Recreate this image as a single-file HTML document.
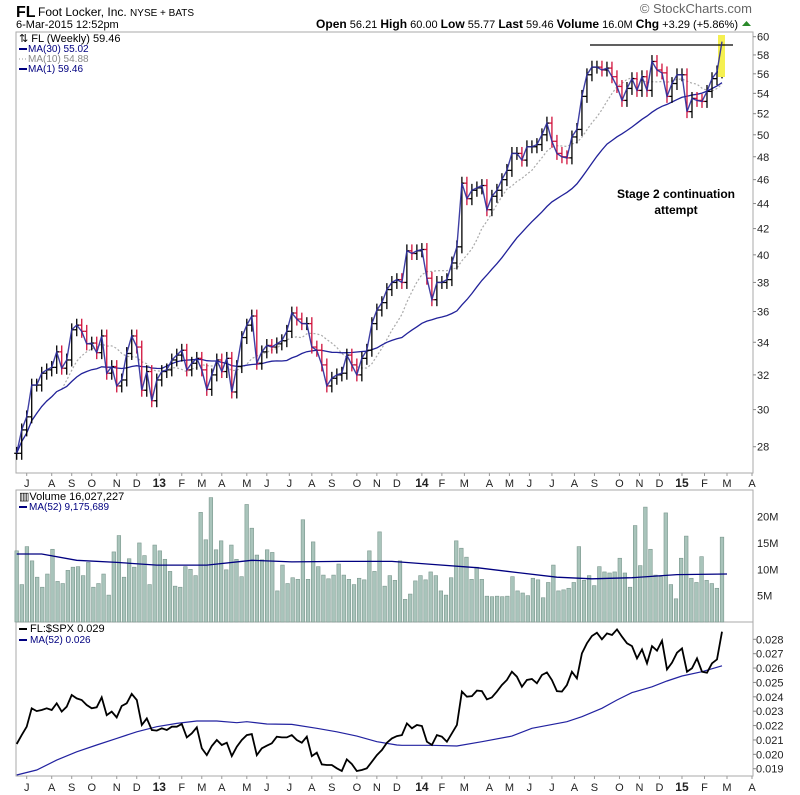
<!DOCTYPE html>
<html><head><meta charset="utf-8"><style>
html,body{margin:0;padding:0;background:#fff}
svg{display:block;font-family:"Liberation Sans",sans-serif}
</style></head><body>
<svg id="c" width="800" height="795" viewBox="0 0 800 795">
<g>
<text x="16" y="17" font-size="16" font-weight="bold">FL</text>
<text x="38" y="16" font-size="12">Foot Locker, Inc. <tspan font-size="10">NYSE + BATS</tspan></text>
<text x="16" y="28" font-size="11">6-Mar-2015 12:52pm</text>
<text x="752" y="13" font-size="13" fill="#666" text-anchor="end">© StockCharts.com</text>
<text x="738" y="28" font-size="11" text-anchor="end"><tspan font-weight="bold" font-size="12">Open</tspan> 56.21 <tspan font-weight="bold" font-size="12">High</tspan> 60.00 <tspan font-weight="bold" font-size="12">Low</tspan> 55.77 <tspan font-weight="bold" font-size="12">Last</tspan> 59.46 <tspan font-weight="bold" font-size="12">Volume</tspan> 16.0M <tspan font-weight="bold" font-size="12">Chg</tspan> +3.29 (+5.86%)</text>
<polygon points="742,26 751,26 746.5,21" fill="#2a8a2a"/>
</g>
<rect x="16" y="32" width="737" height="441" fill="none" stroke="#aaa"/>
<rect x="16" y="490" width="737" height="132" fill="none" stroke="#aaa"/>
<rect x="16" y="622" width="737" height="154" fill="none" stroke="#aaa"/>
<g id="gp"></g><g id="gv"></g><g id="gr"></g><g id="gx"></g>
<rect x="718" y="35" width="7" height="42" fill="#f5f050"/>
<line x1="590" y1="45" x2="733" y2="45" stroke="#000" stroke-width="1.3"/>
<g id="gp2"></g>
<text x="676" y="198" font-size="12" font-weight="bold" text-anchor="middle">Stage 2 continuation</text>
<text x="676" y="214" font-size="12" font-weight="bold" text-anchor="middle">attempt</text>
<g font-size="10">
<text x="19" y="42" font-size="11">⇅ FL (Weekly) 59.46</text>
<line x1="19" y1="49" x2="27" y2="49" stroke="#000080" stroke-width="2"/><text x="28" y="52" fill="#000080">MA(30) 55.02</text>
<line x1="19" y1="59" x2="27" y2="59" stroke="#999" stroke-dasharray="1,2"/><text x="28" y="62" fill="#888">MA(10) 54.88</text>
<line x1="19" y1="69" x2="27" y2="69" stroke="#000080" stroke-width="2"/><text x="28" y="72" fill="#000080">MA(1) 59.46</text>
</g>
<g>
<text x="19" y="500" font-size="11">▥Volume 16,027,227</text>
<line x1="19" y1="507" x2="27" y2="507" stroke="#000080" stroke-width="2"/><text x="29" y="510" font-size="10" fill="#000080">MA(52) 9,175,689</text>
</g>
<g>
<line x1="19" y1="629" x2="27" y2="629" stroke="#000" stroke-width="2"/><text x="30" y="632" font-size="11">FL:$SPX 0.029</text>
<line x1="19" y1="640" x2="27" y2="640" stroke="#000080" stroke-width="2"/><text x="30" y="643" font-size="10" fill="#000080">MA(52) 0.026</text>
</g>
</svg>
<script>
const closes=[27.66,28.89,29.6,31.4,31.4,32.1,32.3,32.45,33.4,32.4,32.9,34.8,35.1,34.7,33.9,33.95,33.35,34.4,32.1,32.5,31.35,31.7,33.3,34.4,33.7,31.1,32.2,30.5,31.7,32.2,32.3,32.9,33.2,33.5,32.3,32.7,33.0,32.3,31.15,32.0,32.9,32.2,33.0,31.0,32.5,34.3,35.1,35.7,32.7,33.4,33.8,33.7,33.9,34.1,34.7,35.9,35.5,35.2,35.2,33.7,33.5,32.6,31.35,31.8,32.0,32.1,33.2,32.6,32.0,33.0,33.5,35.2,36.1,
36.6,37.5,38.0,38.2,38.0,40.3,40.1,40.3,40.4,38.3,36.8,38.0,38.0,38.2,39.4,40.6,45.7,44.4,45.1,45.3,45.5,43.5,44.6,45.1,46.0,46.8,48.3,48.3,47.7,48.9,48.9,49.1,50.0,51.1,49.4,48.3,48.0,47.9,
49.8,50.5,53.7,55.9,56.7,56.7,56.4,56.6,55.7,54.7,53.3,54.5,55.5,54.3,55.7,54.3,57.3,56.4,56.1,53.7,55.0,55.9,55.9,52.2,53.5,53.3,53.2,54.2,55.5,56.2,59.46];
const volumes=[13.5,7.1,14.3,11.6,8.5,6.6,9.1,13.8,7.7,7.3,9.8,10.4,10.5,8.8,11.3,6.6,7.3,9.1,5.1,13.3,16.4,8.5,12,10.4,15,12.6,7.1,14.6,13.5,11.9,9.6,6.8,6.6,10.5,10,8.8,20.8,15.6,23.6,13.7,15.4,9.9,14.6,11.9,8.6,22.3,17.8,12.7,11.8,13.7,13.2,5.9,10.8,7.3,8.4,8.1,19.4,8.1,15.2,10.5,8.9,8.2,8.9,11,8.9,8.1,7.1,8.3,8,13.5,9.6,17.1,6.8,8.8,7.9,11.6,4.3,5.3,7.8,8.8,8,9.5,8.8,5.9,5.1,8.4,15.4,14,12.3,8.1,10.4,8.1,4.9,4.8,4.9,4.8,4.9,8.6,5.9,5.5,5,8.3,8,4.6,7.5,10.8,5.9,6.1,6.4,7.5,14.3,7.9,8.8,6.9,10.5,9.5,9.3,9.5,12.1,9.3,6.6,18.3,10.7,21.8,13.8,8.9,8.6,20.7,7.1,4.4,12.1,16.3,8.3,7.5,12.4,7.9,7.3,6.4,16.1];
const volMaIdx=[0,5,12,20,28,38,47,55,65,75,82,92,100,108,115,123,132,142];
const volMaVal=[12.9,12.9,11.7,11.3,10.8,10.8,11.7,11.4,11.5,11.5,11.0,10.3,9.4,8.5,8.2,8.4,9.0,9.1];
const ratio=[.02072,.02134,.02192,.02320,.02301,.02308,.02320,.02308,.02355,.02297,.02331,.02413,.02389,.02378,.02343,.02320,.02327,.02396,.02273,.02297,.02257,.02336,.02355,.02420,.02378,.02204,.02250,.02169,.02165,.02181,.02169,.02192,.02192,.02211,.02118,.02146,.02188,.02042,.01995,.02058,.02100,.02065,.02081,.01988,.02053,.02100,.02134,.02141,.01995,.02042,.02060,.02077,.02123,.02118,.02118,.02134,.02100,.02081,.02123,.01988,.02012,.01930,.01926,.01926,.01903,.01884,.01965,.01933,.01884,.01891,.01903,.01949,.01995,.02030,.02081,.02111,.02127,
.02134,.02215,.02181,.02204,.02197,.02088,.02065,.02134,.02123,.02088,.02146,.02204,.02436,.02401,.02405,.02443,.02440,.02382,.02396,.02436,.02482,.02517,.02575,.02540,.02470,.02517,.02524,.02494,.02552,.02570,.02517,.02440,.02436,.02482,.02575,.02528,.02702,.02772,.02823,.02846,.02800,.02841,.02830,.02869,.02818,.02772,.02753,.02667,.02730,.02633,.02753,.02721,.02790,.02591,.02637,.02707,.02737,.02575,.02598,.02667,.02575,.02568,.02633,.02660,.02853];
const ratioMaIdx=[0,4,8,12,16,20,24,28,32,36,40,44,46,50,55,60,64,68,72,76,77,83,88,93,99,103,110,113,117,120,123,127,130,133,137,141];
const ratioMaVal=[.01856,.01891,.01960,.02018,.02065,.02111,.02157,.02192,.02215,.02232,.02232,.02220,.02227,.02211,.02208,.02181,.02157,.02127,.02088,.02065,.02063,.02063,.02058,.02088,.02127,.02181,.02227,.02262,.02320,.02378,.02429,.02470,.02510,.02545,.02575,.02616];
const priceTicks=[28,30,32,34,36,38,40,42,44,46,48,50,52,54,56,58,60];
const volTicks=[5,10,15,20];
const ratioTicks=[.019,.020,.021,.022,.023,.024,.025,.026,.027,.028];
const monthLabels=["J","A","S","O","N","D","13","F","M","A","M","J","J","A","S","O","N","D","14","F","M","A","M","J","J","A","S","O","N","D","15","F","M","A"];
const monthIdx=[2,7,11,15,20,24,28.5,33,37,41,46,50,54.5,59,63,68,72,76,81,85,89.5,94.5,98.5,102.5,107,111.5,115.5,120.5,124.5,128.5,133,137.5,142,147];

const NS="http://www.w3.org/2000/svg";
function mk(p,t,a){const e=document.createElementNS(NS,t);for(const k in a)e.setAttribute(k,a[k]);p.appendChild(e);return e;}
const X0=16.7,X1=722;
const xs=(i,n)=>X0+i*(X1-X0)/(n-1);
const xi=i=>xs(i,closes.length);
const py=p=>36.7+538*Math.log(60/p);
const vy=v=>622-v*5.27;
const ry=v=>639.3+(0.028-v)*14380;
const gp=document.getElementById('gp'),gp2=document.getElementById('gp2'),gv=document.getElementById('gv'),gr=document.getElementById('gr'),gx=document.getElementById('gx');

function ma(n){return closes.map((c,i)=>{const s=closes.slice(Math.max(0,i-n+1),i+1);return s.reduce((a,b)=>a+b,0)/s.length;});}
function poly(g,pts,st,name){const e=mk(g,'polyline',Object.assign({points:pts.map(p=>p[0].toFixed(1)+','+p[1].toFixed(1)).join(' '),fill:'none'},st));

return e;}

priceTicks.forEach(p=>{const y=py(p);mk(gp,'line',{x1:753,y1:y,x2:756,y2:y,stroke:'#888'});
const t=mk(gp,'text',{x:757,y:y+4,'font-size':11,fill:'#222'});t.textContent=p;

});
poly(gp,ma(10).map((v,i)=>[xi(i),py(v)]),{stroke:'#aaa','stroke-dasharray':'2,2','stroke-width':1.2},'ma10-line');
poly(gp,ma(30).map((v,i)=>[xi(i),py(v)]),{stroke:'#22229a','stroke-width':1.3},'ma30-line');
closes.forEach((c,i)=>{const o=i?closes[i-1]:c;const hi=Math.max(o,c)*1.012,lo=Math.min(o,c)*0.988;const x=xi(i);
const col=(c<o)?'#d0103a':'#000';const g=mk(gp,'g',{stroke:col,'stroke-width':1.3});


mk(g,'line',{x1:x,y1:py(hi),x2:x,y2:py(lo)});mk(g,'line',{x1:x-2.5,y1:py(o),x2:x,y2:py(o)});mk(g,'line',{x1:x,y1:py(c),x2:x+2.5,y2:py(c)});});
poly(gp2,closes.map((v,i)=>[xi(i),py(v)]),{stroke:'#2a2a9a','stroke-width':1.4,opacity:0.9},'ma1-close-line');

volumes.forEach((v,i)=>{const x=xs(i,volumes.length);const r=mk(gv,'rect',{x:x-1.8,y:vy(v),width:3.6,height:622-vy(v),fill:'#a9c4bb',stroke:'#7a978d','stroke-width':0.6});

});
poly(gv,volMaIdx.map((k,j)=>[xi(k),vy(volMaVal[j])]),{stroke:'#000080','stroke-width':1.3},'volume-ma52-line');
volTicks.forEach(v=>{const t=mk(gv,'text',{x:757,y:vy(v)+4,'font-size':11,fill:'#222'});t.textContent=v+'M';

});

poly(gr,ratioMaIdx.map((k,j)=>[xs(k,ratio.length),ry(ratioMaVal[j])]),{stroke:'#2222a0','stroke-width':1.2},'ratio-ma52-line');
poly(gr,ratio.map((v,i)=>[xs(i,ratio.length),ry(v)]),{stroke:'#000','stroke-width':1.8},'ratio-line');
ratioTicks.forEach(v=>{const y=ry(v);mk(gr,'line',{x1:753,y1:y,x2:756,y2:y,stroke:'#888'});
const t=mk(gr,'text',{x:756,y:y+4,'font-size':11,fill:'#222'});t.textContent=v.toFixed(3);

});

[483,787].forEach((yy,row)=>{monthLabels.forEach((m,j)=>{const x=X0+monthIdx[j]*(X1-X0)/141;
mk(gx,'line',{x1:x,y1:row?776:473,x2:x,y2:row?779:476,stroke:'#999'});
const t=mk(gx,'text',{x:x,y:yy+4,'font-size':/\d/.test(m)?12:11,'font-weight':/\d/.test(m)?'bold':'normal','text-anchor':'middle',fill:'#222'});t.textContent=m;

});});
</script>
</body></html>
